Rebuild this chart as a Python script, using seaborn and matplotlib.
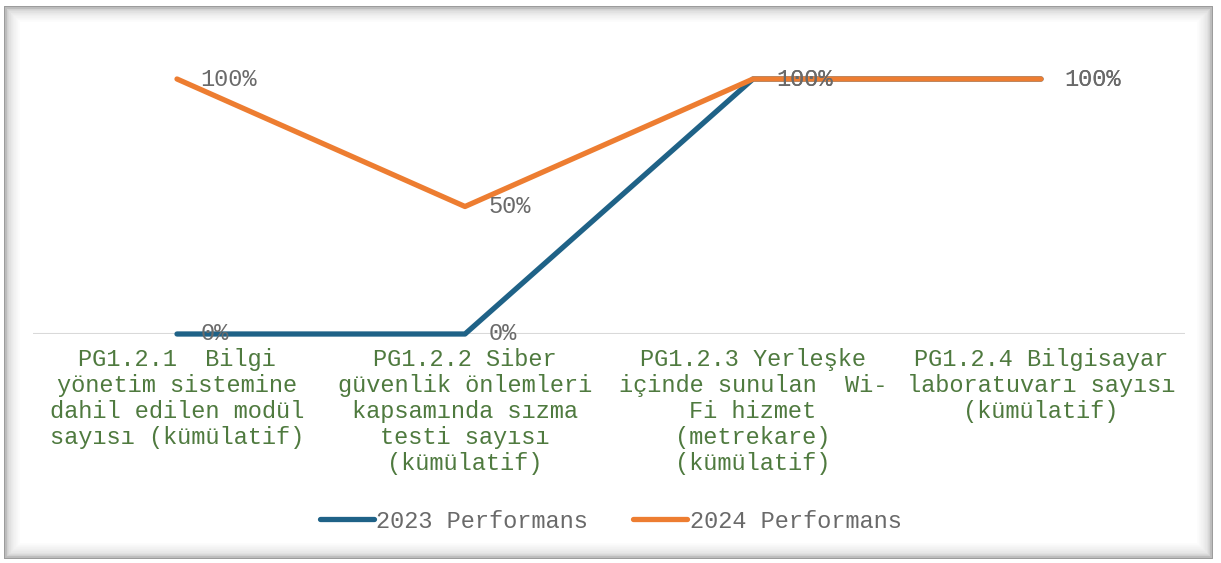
import matplotlib
matplotlib.use("Agg")
import matplotlib.pyplot as plt
from matplotlib.patches import Rectangle
import pandas as pd
import seaborn as sns

# Veriler
kategoriler = [
    "PG1.2.1  Bilgi\nyönetim sistemine\ndahil edilen modül\nsayısı (kümülatif)",
    "PG1.2.2 Siber\ngüvenlik önlemleri\nkapsamında sızma\ntesti sayısı\n(kümülatif)",
    "PG1.2.3 Yerleşke\niçinde sunulan  Wi-\nFi hizmet\n(metrekare)\n(kümülatif)",
    "PG1.2.4 Bilgisayar\nlaboratuvarı sayısı\n(kümülatif)",
]
seriler = ["2023 Performans", "2024 Performans"]
perf_2023 = [0.0, 0.0, 1.0, 1.0]
perf_2024 = [1.0, 0.5, 1.0, 1.0]
renkler = ["#1f6287", "#ed7d31"]

sns.set_style("white")
plt.rcParams["font.family"] = ["Liberation Mono", "DejaVu Sans Mono"]

rows = []
for seri, vals in zip(seriler, [perf_2023, perf_2024]):
    for i, v in enumerate(vals):
        rows.append({"kat": i, "deger": v, "seri": seri})
df = pd.DataFrame(rows)

fig = plt.figure(figsize=(12.21, 5.63), dpi=100)
ax = fig.add_axes([33 / 1221, 1 - 334 / 563, 1152 / 1221, 255 / 563])

# cerceve (bevel)
W, H = 1221, 563
greys = ["#9a9a9a", "#bdbdbd", "#d0d0d0", "#dadada", "#e2e2e2", "#e8e8e8",
         "#ececec", "#f0f0f0", "#f3f3f3", "#f6f6f6", "#f9f9f9", "#fcfcfc"]
for k, g in enumerate(greys):
    off = 5 + k * 1.3
    fig.patches.append(Rectangle((off / W, off / H), (W - 2 * off - 4) / W,
                                 (H - 2 * off - 2) / H, transform=fig.transFigure,
                                 fill=False, edgecolor=g, lw=1.4, zorder=0))

ax.axhline(0, color="#d9d9d9", lw=1.5, zorder=1)
sns.lineplot(data=df, x="kat", y="deger", hue="seri", palette=renkler,
             linewidth=3.8, ax=ax, legend=True, sort=False)
for line in ax.lines[1:]:
    line.set_clip_on(False)
    line.set_solid_capstyle("round")

for vals in [perf_2023, perf_2024]:
    for i, v in enumerate(vals):
        ax.annotate(f"{v:.0%}", (i, v), xytext=(17, 0), textcoords="offset points",
                    ha="left", va="center", fontsize=17, color="#6a6a6a",
                    annotation_clip=False)

ax.set_xlim(-0.5, 3.5)
ax.set_ylim(0, 1)
ax.set_xticks(range(len(kategoriler)))
ax.set_xticklabels(kategoriler, fontsize=17, color="#4f7a3f", linespacing=1.17)
ax.tick_params(axis="x", length=0, pad=10)
ax.set_yticks([])
ax.set_xlabel("")
ax.set_ylabel("")
for s in ax.spines.values():
    s.set_visible(False)
ax.patch.set_alpha(0)

h, l = ax.get_legend_handles_labels()
ax.get_legend().remove()
for hh in h:
    hh.set_solid_capstyle("round")
fig.legend(h, l, loc="center", bbox_to_anchor=(0.5, 1 - 521 / 563), ncol=2,
           frameon=False, fontsize=17, labelcolor="#6a6a6a", handlelength=2.3,
           handletextpad=0.1, columnspacing=1.9)

fig.savefig("out.png", dpi=100, facecolor="white")
